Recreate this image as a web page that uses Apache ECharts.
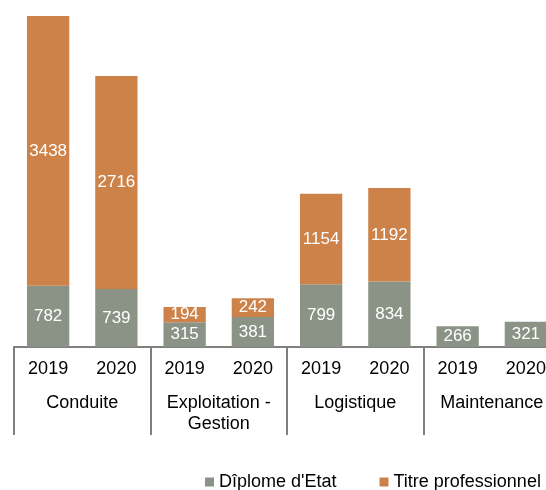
<!DOCTYPE html>
<html>
<head>
<meta charset="utf-8">
<script src="https://cdn.jsdelivr.net/npm/echarts@6/dist/echarts.min.js"></script>
<style>
html,body{margin:0;padding:0;background:#fff;}
#c{width:546px;height:490px;}
</style>
</head>
<body>
<div id="c"></div>
<script>
const years = ['2019','2020','2019','2020','2019','2020','2019','2020'];
const groups = ['Conduite','Exploitation -\nGestion','Logistique','Maintenance'];
const diplome = [782, 739, 315, 381, 799, 834, 266, 321];
const titre = [3438, 2716, 194, 242, 1154, 1192, null, null];
const seriesNames = ["Dîplome d'Etat", 'Titre professionnel'];

const chart = echarts.init(document.getElementById('c'), null, {renderer:'canvas'});
const labelStyle = {show:true, position:'inside', color:'#fff', fontSize:17, fontFamily:'Liberation Sans, Arial, sans-serif'};
chart.setOption({
  animation:false,
  textStyle:{fontFamily:'Liberation Sans, Arial, sans-serif'},
  grid:{left:14, top:16, right:-14, height:331, outerBoundsMode:'none', containLabel:false},
  legend:{
    data:seriesNames, left:205, top:473, itemWidth:9, itemHeight:9, itemGap:43, padding:0,
    icon:'rect', textStyle:{fontSize:18, color:'#000', fontFamily:'Liberation Sans, Arial, sans-serif'}
  },
  xAxis:[
    {type:'category', data:years, position:'bottom',
     axisLine:{show:true, lineStyle:{color:'#7f7f7f', width:2}},
     axisTick:{show:false},
     axisLabel:{margin:13, fontSize:18, color:'#000', interval:0, hideOverlap:false}},
    {type:'category', data:groups, position:'bottom', offset:0,
     axisLine:{show:false},
     axisTick:{show:true, length:88, lineStyle:{color:'#7f7f7f', width:2}},
     axisLabel:{margin:46, fontSize:18, lineHeight:21, color:'#000', interval:0}}
  ],
  yAxis:{type:'value', min:0, max:4220, show:false, splitLine:{show:false}},
  series:[
    {name:seriesNames[0], type:'bar', stack:'t', data:diplome, barCategoryGap:'38%',
     itemStyle:{color:'#8a9385'}, label:labelStyle},
    {name:seriesNames[1], type:'bar', stack:'t', data:titre, barCategoryGap:'38%',
     itemStyle:{color:'#cd8249'}, label:labelStyle}
  ]
});
</script>
</body>
</html>
